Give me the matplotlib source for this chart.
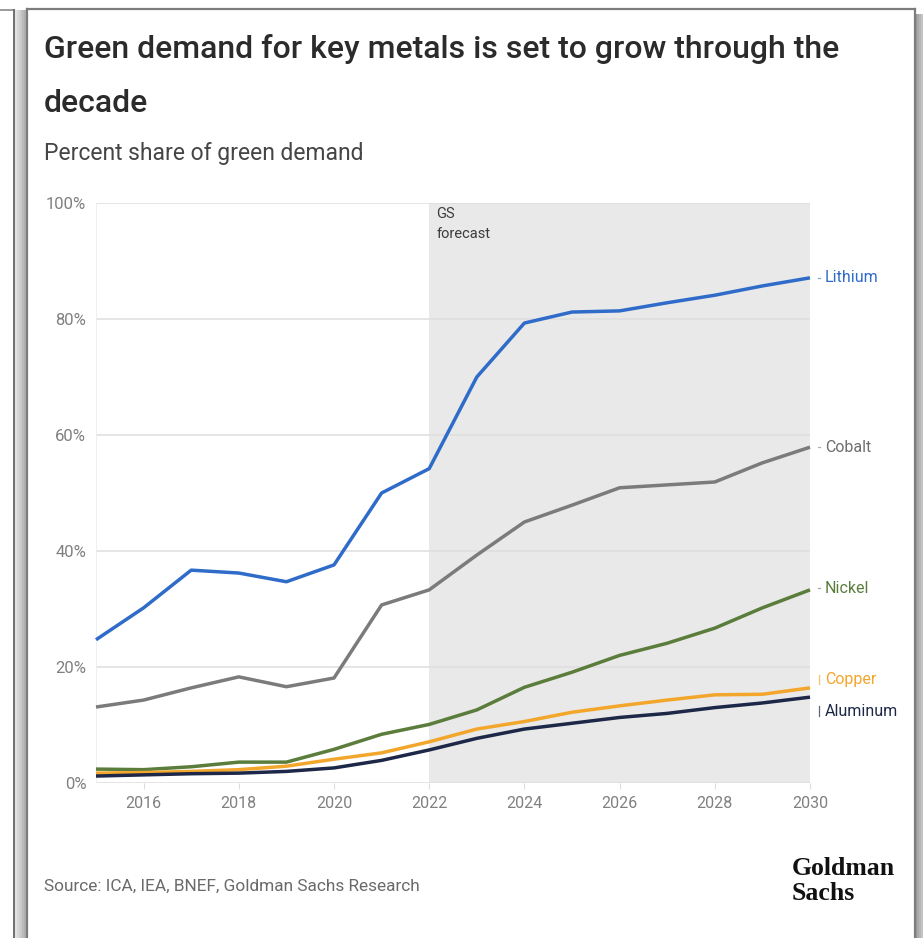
import matplotlib
matplotlib.use("Agg")
import matplotlib.pyplot as plt
from matplotlib import font_manager
from matplotlib.patches import Rectangle
from matplotlib.lines import Line2D

# ---- data (percent share of green demand) ----
years = list(range(2015, 2031))
lithium = [24.7, 30.2, 36.7, 36.2, 34.7, 37.6, 50.0, 54.2, 70.0, 79.3, 81.2, 81.4, 82.8, 84.1, 85.7, 87.1]
cobalt = [13.1, 14.3, 16.4, 18.3, 16.6, 18.1, 30.7, 33.3, 39.3, 45.0, 47.9, 50.9, 51.4, 51.9, 55.2, 57.9]
nickel = [2.4, 2.3, 2.8, 3.6, 3.6, 5.8, 8.4, 10.1, 12.6, 16.5, 19.1, 22.0, 24.1, 26.7, 30.2, 33.3]
copper = [1.7, 1.8, 2.0, 2.3, 2.9, 4.1, 5.2, 7.1, 9.3, 10.6, 12.2, 13.3, 14.3, 15.2, 15.3, 16.4]
aluminum = [1.2, 1.4, 1.6, 1.7, 2.0, 2.6, 3.9, 5.7, 7.7, 9.3, 10.3, 11.3, 12.0, 13.0, 13.8, 14.8]

series_names = ["Lithium", "Cobalt", "Nickel", "Copper", "Aluminum"]
series_values = [lithium, cobalt, nickel, copper, aluminum]
series_colors = ["#2f6bc9", "#7b7b7b", "#5b7d3c", "#f2a72c", "#1d2747"]
label_colors = ["#2f6bc9", "#6e6e6e", "#5b7d3c", "#f2a72c", "#1d2747"]
# vertical positions of end labels (Copper/Aluminum nudged apart)
label_y = [87.1, 57.9, 33.6, 17.9, 12.4]

forecast_start = 2022
yticks = [0, 20, 40, 60, 80, 100]
ytick_labels = ["0%", "20%", "40%", "60%", "80%", "100%"]
xticks = [2016, 2018, 2020, 2022, 2024, 2026, 2028, 2030]
xtick_labels = [str(x) for x in xticks]

# ---- fonts ----
available = {f.name for f in font_manager.fontManager.ttflist}
sans = "Liberation Sans Narrow" if "Liberation Sans Narrow" in available else "Roboto"
serif = "Liberation Serif" if "Liberation Serif" in available else "DejaVu Serif"
plt.rcParams["font.family"] = [sans, "DejaVu Sans"]

W, H = 923, 938
fig = plt.figure(figsize=(W / 100, H / 100), dpi=100)
fig.patch.set_facecolor("white")


def fx(x):
    return x / W


def fy(y):
    return 1 - y / H


def band(x0, x1, y_top, colors):
    """Stepped gray band (used for card edge shading)."""
    n = len(colors)
    step = (x1 - x0) / n
    for k, c in enumerate(colors):
        fig.add_artist(Rectangle((fx(x0 + k * step), 0), fx(step) + 0.0005, fy(y_top),
                                 transform=fig.transFigure, color=c, lw=0, zorder=1))


# ---- card frame ----
frame_color = "#7d7d7d"
# neighbouring card edge on the left
band(15, 26, 10, ["#e2e2e2", "#d8d8d8", "#cecece", "#c4c4c4", "#bababa", "#b0b0b0"])
fig.add_artist(Line2D([fx(0), fx(14.5)], [fy(10), fy(10)], color="#8a8a8a", lw=1.2,
                      transform=fig.transFigure, zorder=2))
fig.add_artist(Line2D([fx(14.5), fx(14.5)], [fy(10), fy(H)], color="#6f6f6f", lw=1.4,
                      transform=fig.transFigure, zorder=2))
# shadow on the right
band(915.5, 923, 14, ["#9a9a9a", "#a8a8a8", "#b6b6b6", "#c4c4c4"])
# card border
for xs, ys in [([26.5, 26.5], [9, H]), ([26.5, 914.5], [9, 9]), ([914.5, 914.5], [9, H])]:
    fig.add_artist(Line2D([fx(v) for v in xs], [fy(v) for v in ys], color=frame_color, lw=1.6,
                          transform=fig.transFigure, zorder=2))

# ---- titles ----
title_kw = dict(ha="left", va="baseline", fontsize=23, fontweight="medium", color="#2b2b2b")
fig.text(fx(44), fy(58), "Green demand for key metals is set to grow through the", **title_kw)
fig.text(fx(44), fy(112), "decade", **title_kw)
fig.text(fx(44), fy(160), "Percent share of green demand", ha="left", va="baseline",
         fontsize=16.5, color="#454545")
fig.text(fx(44), fy(886), "Source: ICA, IEA, BNEF, Goldman Sachs Research", ha="left",
         va="center", fontsize=12.4, color="#6a6a6a")
fig.text(fx(792), fy(881), "Goldman\nSachs", ha="left", va="center", multialignment="left",
         fontsize=18.5, fontweight="bold", family=serif, color="#111111", linespacing=1.12)

# ---- chart ----
ax = fig.add_axes([fx(96), fy(783), fx(810) - fx(96), fy(203) - fy(783)])
ax.set_xlim(2015, 2030)
ax.set_ylim(0, 100)

ax.axvspan(forecast_start, 2030, color="#e9e9e9", zorder=0, lw=0)
for v in yticks:
    ax.axhline(v, color="#dedede", lw=1.1, zorder=1)
ax.axvline(2015, color="#ececec", lw=1.1, zorder=1)

ax.text(forecast_start + 0.15, 99.3, "GS\nforecast", ha="left", va="top", fontsize=10.5,
        color="#3c3c3c", linespacing=1.55)

draw_order = [1, 0, 2, 3, 4]
for i in draw_order:
    ax.plot(years, series_values[i], color=series_colors[i], lw=2.5, zorder=3 + i,
            solid_capstyle="butt", solid_joinstyle="round", clip_on=False)

# end labels with small connectors
for i, name in enumerate(series_names):
    ly = label_y[i]
    ax.text(2030.31, ly, name, ha="left", va="center", fontsize=11.5, color=label_colors[i],
            clip_on=False)
    if name in ("Copper", "Aluminum"):
        ax.plot([2030.19, 2030.19], [ly - 0.8, ly + 0.8], color=series_colors[i], lw=0.9,
                alpha=0.7, clip_on=False)
    else:
        ax.plot([2030.16, 2030.21], [ly, ly], color=series_colors[i], lw=0.9, alpha=0.6,
                clip_on=False)

ax.set_yticks(yticks)
ax.set_yticklabels(ytick_labels)
ax.set_xticks(xticks)
ax.set_xticklabels(xtick_labels)
ax.tick_params(axis="y", length=0, pad=7, labelsize=12, labelcolor="#808080")
ax.tick_params(axis="x", length=4, width=0.8, color="#dddddd", pad=5, labelsize=11.5,
               labelcolor="#808080")
for s in ax.spines.values():
    s.set_visible(False)
ax.set_facecolor("none")

fig.savefig("out.png", dpi=100, facecolor="white")
